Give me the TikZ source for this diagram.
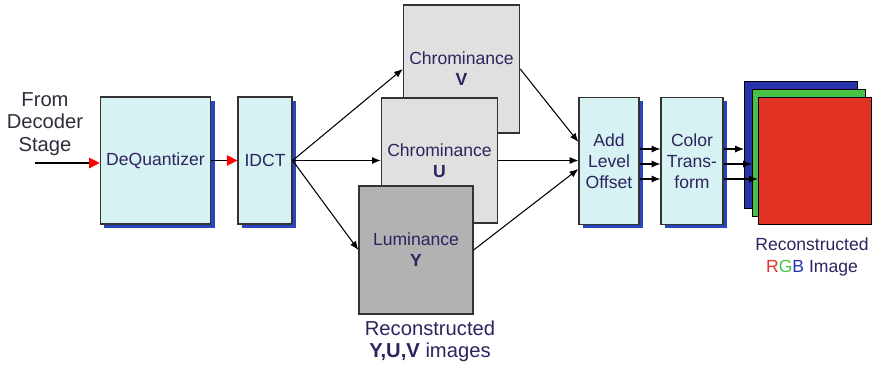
\documentclass[tikz,border=0pt]{standalone}
\usepackage{fontspec}
\setmainfont{Liberation Sans}
\usetikzlibrary{arrows.meta, positioning, shadows, calc}

\definecolor{boxcyan}{RGB}{214,242,242}
\definecolor{shadowblue}{RGB}{40,70,190}
\definecolor{lightgrey}{RGB}{224,224,224}
\definecolor{darkgrey}{RGB}{178,178,178}
\definecolor{labelnavy}{RGB}{45,35,95}
\definecolor{sourcegrey}{RGB}{45,45,60}
\definecolor{layerblue}{RGB}{40,50,170}
\definecolor{layergreen}{RGB}{70,195,70}
\definecolor{layerred}{RGB}{225,50,35}

\begin{document}
\begin{tikzpicture}[x=0.02cm, y=-0.02cm,
    block/.style={draw=black!80, line width=0.7pt, fill=boxcyan, text=labelnavy, align=center,
        font=\fontsize{10}{12}\selectfont, minimum height=2.54cm,
        drop shadow={shadow xshift=2.2pt, shadow yshift=-2.2pt, fill=shadowblue, opacity=1}},
    plane/.style={draw=black!80, line width=0.7pt, text=labelnavy, align=center,
        font=\fontsize{10}{12}\selectfont},
    layer/.style={draw=black, line width=0.6pt, minimum width=2.26cm, minimum height=2.54cm},
    arr/.style={-{Latex[length=5pt,width=4pt]}, line width=0.6pt},
    redarr/.style={-{Triangle[color=red, length=6pt, width=6pt]}, line width=0.6pt},
    caption/.style={text=labelnavy, align=center}
]
    \useasboundingbox (0,0) rectangle (873,368);

    % Input text
    \node[caption, text=sourcegrey, font=\fontsize{11.5}{13}\selectfont] (source) at (45,124) {From\\Decoder\\Stage};
    \coordinate (in) at (35,163);

    % Decoder blocks
    \node[block, minimum width=2.14cm] (dq) at (155.5,160.5) {DeQuantizer};
    \node[block, minimum width=1.08cm] (idct) at (265,160.5) {IDCT};

    % Reconstructed Y,U,V planes
    \node[plane, fill=lightgrey, minimum width=2.3cm, minimum height=2.56cm] (chromV) at (461.5,69) {Chrominance\\\textbf{V}};
    \node[plane, fill=lightgrey, minimum width=2.26cm, minimum height=2.5cm] (chromU) at (439.5,160.5) {Chrominance\\\textbf{U}};
    \node[plane, fill=darkgrey, minimum width=2.28cm, minimum height=2.56cm] (lum) at (416,250) {Luminance\\\textbf{Y}};
    \node[caption, font=\fontsize{11.5}{12.5}\selectfont] (yuvcap) at (430,341) {Reconstructed\\\textbf{Y,U,V} images};

    % Output blocks
    \node[block, minimum width=1.2cm] (alo) at (609,161) {Add\\Level\\Offset};
    \node[block, minimum width=1.2cm] (ct) at (692,161) {Color\\Trans-\\form};

    % RGB image layers
    \node[layer, fill=layerblue] (rgbB) at (801,145) {};
    \node[layer, fill=layergreen] (rgbG) at (809,153) {};
    \node[layer, fill=layerred] (rgbR) at (815,161) {};
    \node[caption, font=\fontsize{10}{12.5}\selectfont] (rgbcap) at (812,257)
        {Reconstructed\\{\color{layerred}R}{\color{layergreen}G}{\color{layerblue}B} Image};

    % Connectors
    \draw[redarr] (in) -- (in -| dq.west);
    \draw[redarr] (dq.east) -- (idct.west);
    \draw[arr] (idct.east) -- (chromV.west);
    \draw[arr] (idct.east) -- (chromU.west);
    \draw[arr] (idct.east) -- (lum.west);
    \draw[arr] (chromV.east) -- ($(alo.west)+(0,-19)$);
    \draw[arr] (chromU.east) -- (chromU.east -| alo.west);
    \draw[arr] (lum.east) -- ($(alo.west)+(0,8)$);
    \foreach \dy in {-12,3,18}
        \draw[arr] ($(alo.east)+(0,\dy)$) -- ($(ct.west)+(0,\dy)$);
    \foreach \dy/\lay in {-12/rgbB, 3/rgbG, 18/rgbR}
        \draw[arr] ($(ct.east)+(0,\dy)$) coordinate (out) -- (out -| \lay.west);
\end{tikzpicture}
\end{document}
